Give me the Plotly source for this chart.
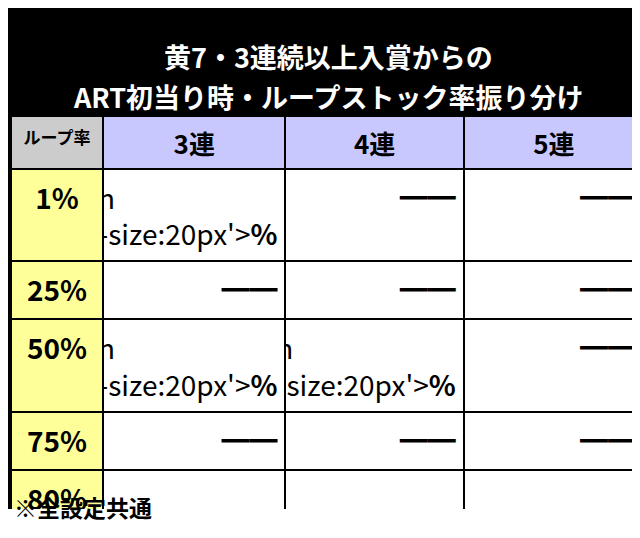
import plotly.graph_objects as go

title_lines = ["黄7・3連続以上入賞からの", "ART初当り時・ループストック率振り分け"]
header = ["ループ率", "3連", "4連", "5連"]
loop_rates = ["1%", "25%", "50%", "75%", "80%", "88%"]
ren3 = ["66.28", None, "33.33", None, "0.39", None]
ren4 = [None, None, "93.75", None, "6.25", None]
ren5 = [None, None, None, None, "100", None]
footnote = "※全設定共通"

DASH = "<b>━━</b>"


def fmt(vals):
    return [DASH if v is None else "<b>%s</b><span style='font-size:20px'><b>%%</b></span>" % v for v in vals]


W, H = 640, 538
top, head_h, row_h = 108, 45, 58

fig = go.Figure(go.Table(
    domain=dict(x=[3 / W, 636 / W], y=[0, 1 - top / H]),
    columnwidth=[92, 182, 178, 180],
    header=dict(
        values=["<b>%s</b>" % h for h in header],
        fill_color=["#cccccc", "#c8c8ff", "#c8c8ff", "#c8c8ff"],
        line=dict(color="black", width=2),
        align="center", height=head_h,
        font=dict(size=[17, 26, 26, 26], color="black", family="Noto Sans CJK JP"),
    ),
    cells=dict(
        values=[["<b>%s</b>" % r for r in loop_rates], fmt(ren3), fmt(ren4), fmt(ren5)],
        fill_color=["#ffff99", "white", "white", "white"],
        line=dict(color="black", width=2),
        align=["center", "right", "right", "right"], height=row_h,
        font=dict(size=28, color="black", family="Noto Sans CJK JP"),
    ),
))

fig.add_shape(type="rect", xref="paper", yref="paper", x0=0, x1=1, y0=0, y1=(H - 501) / H,
              fillcolor="white", line_width=0, layer="above")
for i, t in enumerate(title_lines):
    fig.add_annotation(text="<b>%s</b>" % t, x=0.5, y=1 - (27 + 40 * i) / H, xref="paper", yref="paper",
                       showarrow=False, font=dict(size=27, color="white", family="Noto Sans CJK JP"))
fig.add_annotation(text="<b>%s</b>" % footnote, x=4 / W, y=1 - 518 / H, xref="paper", yref="paper",
                   xanchor="left", showarrow=False, font=dict(size=23, color="black", family="Noto Sans CJK JP"))

fig.update_layout(width=W, height=H, margin=dict(l=0, r=0, t=0, b=0), paper_bgcolor="black")
fig.write_html("out.html")
